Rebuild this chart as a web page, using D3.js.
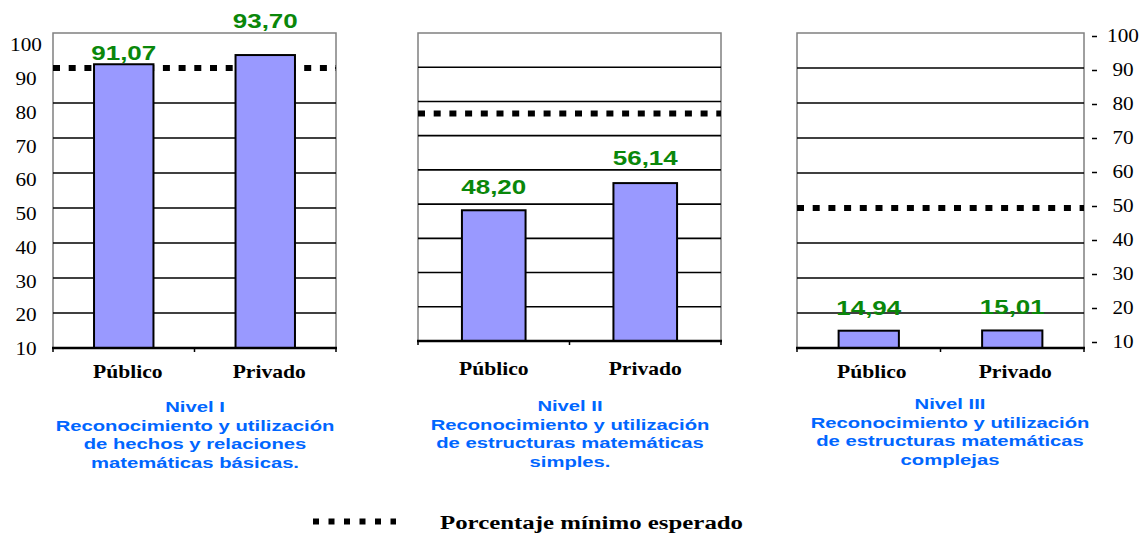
<!DOCTYPE html>
<html>
<head>
<meta charset="utf-8">
<script src="https://cdn.jsdelivr.net/npm/d3@7"></script>
<style>
  body { margin: 0; background: #fff; }
  svg { display: block; }
</style>
</head>
<body>
<svg id="canvas" width="1143" height="533"></svg>
<script>
// values
let categories = ["Público", "Privado"];
let levelNames = ["Nivel I", "Nivel II", "Nivel III"];
let publicValues = [91.07, 48.20, 14.94];
let privateValues = [93.70, 56.14, 15.01];
let minimumExpected = [90, 76.5, 50];
let yTicks = [10, 20, 30, 40, 50, 60, 70, 80, 90, 100];
let gridValues = [20, 30, 40, 50, 60, 70, 80, 90];
let captions = [
    ["Reconocimiento y utilización", "de hechos y relaciones", "matemáticas básicas."],
    ["Reconocimiento y utilización", "de estructuras matemáticas", "simples."],
    ["Reconocimiento y utilización", "de estructuras matemáticas", "complejas"]
];
let legendLabel = "Porcentaje mínimo esperado";

// layout of the three panels
let panels = [
    { left: 53, right: 336, top: 33, bottom: 348, catY: 378, catDx: 4, capX: 195, capY: 412, labelDy: [4, 27] },
    { left: 418, right: 721, top: 33, bottom: 341, catY: 375, catDx: 0, capX: 570, capY: 411, labelDy: [16, 18] },
    { left: 797, right: 1084, top: 33, bottom: 348, catY: 378, catDx: 3, capX: 950, capY: 409, labelDy: [16, 16] }
];

let locale = d3.formatLocale({ decimal: ",", thousands: ".", grouping: [3], currency: ["", ""] });
let fmt = locale.format(".2f");

let canvas = d3.select("#canvas");

// the reference text is wide, so glyphs get stretched sideways
let stretchText = (g, x, y, sx, str) => {
    return g.append("text")
        .attr("transform", `translate(${x},${y}) scale(${sx},1)`)
        .text(str);
};

panels.forEach((p, i) => {
    let g = canvas.append("g");
    let values = [publicValues[i], privateValues[i]];

    let y = d3.scaleLinear().domain([10, 100]).range([p.bottom, p.top]);
    let x = d3.scaleBand().domain(categories).range([p.left, p.right])
        .paddingInner(0.58).paddingOuter(0.29);

    // frame
    g.append("rect")
        .attr("x", p.left).attr("y", p.top)
        .attr("width", p.right - p.left).attr("height", p.bottom - p.top)
        .attr("fill", "none").attr("stroke", "#808080").attr("stroke-width", 1.5);

    // grid
    g.selectAll(".grid")
        .data(gridValues)
        .enter()
        .append("line")
        .attr("class", "grid")
        .attr("x1", p.left).attr("x2", p.right)
        .attr("y1", d => y(d)).attr("y2", d => y(d))
        .attr("stroke", "#000").attr("stroke-width", 1.6);

    // minimum expected (dotted), hides the grid line under it
    g.append("rect")
        .attr("x", p.left + 1).attr("y", y(minimumExpected[i]) - 3)
        .attr("width", p.right - p.left - 2).attr("height", 6)
        .attr("fill", "#fff");
    g.append("line")
        .attr("x1", p.left).attr("x2", p.right)
        .attr("y1", y(minimumExpected[i])).attr("y2", y(minimumExpected[i]))
        .attr("stroke", "#000").attr("stroke-width", 6)
        .attr("stroke-dasharray", "7 8.7");

    // bars
    g.selectAll(".bar")
        .data(values)
        .enter()
        .append("rect")
        .attr("class", "bar")
        .attr("x", (d, j) => x(categories[j]))
        .attr("y", d => y(d))
        .attr("width", x.bandwidth())
        .attr("height", d => p.bottom - y(d))
        .attr("fill", "#9999ff")
        .attr("stroke", "#000").attr("stroke-width", 2);

    // bottom axis
    g.append("line")
        .attr("x1", p.left - 1).attr("x2", p.right + 1)
        .attr("y1", p.bottom).attr("y2", p.bottom)
        .attr("stroke", "#000").attr("stroke-width", 2.5);
    g.selectAll(".xtick")
        .data([p.left, p.left + (p.right - p.left) / 2, p.right])
        .enter()
        .append("line")
        .attr("x1", d => d).attr("x2", d => d)
        .attr("y1", p.bottom).attr("y2", p.bottom + 4)
        .attr("stroke", "#000").attr("stroke-width", 1.5);

    // value labels
    values.forEach((v, j) => {
        stretchText(g, x(categories[j]) + x.bandwidth() / 2, y(v) - p.labelDy[j], 1.3, fmt(v))
            .attr("text-anchor", "middle")
            .attr("font-family", "'Liberation Sans', Arial, sans-serif")
            .attr("font-weight", "bold")
            .attr("font-size", 20)
            .attr("fill", "#0a870a");
    });

    // category labels
    categories.forEach((c) => {
        stretchText(g, x(c) + x.bandwidth() / 2 + p.catDx, p.catY, 1.2, c)
            .attr("text-anchor", "middle")
            .attr("font-family", "'Liberation Serif', 'Times New Roman', serif")
            .attr("font-weight", "bold")
            .attr("font-size", 18)
            .attr("fill", "#000");
    });

    // caption
    let lines = [levelNames[i]].concat(captions[i]);
    lines.forEach((line, k) => {
        stretchText(g, p.capX, p.capY + k * 18.7, 1.35, line)
            .attr("text-anchor", "middle")
            .attr("font-family", "'Liberation Sans', Arial, sans-serif")
            .attr("font-weight", "bold")
            .attr("font-size", 15)
            .attr("fill", "#0066ff");
    });
});

// left axis labels (panel I)
let leftLabels = d3.scaleLinear().domain([10, 100]).range([349, 45]);
let leftAxis = canvas.append("g")
    .attr("transform", "translate(26,0)")
    .call(d3.axisLeft(leftLabels).tickValues(yTicks).tickSize(0).tickPadding(0));
leftAxis.select(".domain").remove();
leftAxis.selectAll("text")
    .attr("x", null)
    .attr("text-anchor", "middle")
    .attr("transform", "scale(1.18,1)")
    .attr("font-family", "'Liberation Serif', 'Times New Roman', serif")
    .attr("font-size", 18)
    .attr("fill", "#000");

// right axis labels (panel III)
let rightLabels = d3.scaleLinear().domain([10, 100]).range([342, 36]);
let rightAxis = canvas.append("g")
    .attr("transform", "translate(1092,0)")
    .call(d3.axisRight(rightLabels).tickValues(yTicks).tickSize(5));
rightAxis.select(".domain").remove();
rightAxis.selectAll("line").attr("stroke", "#000").attr("stroke-width", 1.5);
rightAxis.selectAll("text")
    .attr("x", null)
    .attr("text-anchor", "middle")
    .attr("transform", "translate(31,0) scale(1.18,1)")
    .attr("font-family", "'Liberation Serif', 'Times New Roman', serif")
    .attr("font-size", 18)
    .attr("fill", "#000");

// legend
let legend = canvas.append("g");
legend.append("line")
    .attr("x1", 313).attr("x2", 396)
    .attr("y1", 521.5).attr("y2", 521.5)
    .attr("stroke", "#000").attr("stroke-width", 6)
    .attr("stroke-dasharray", "6 9.5");
stretchText(legend, 440, 529, 1.38, legendLabel)
    .attr("font-family", "'Liberation Serif', 'Times New Roman', serif")
    .attr("font-weight", "bold")
    .attr("font-size", 18)
    .attr("fill", "#000");
</script>
</body>
</html>
